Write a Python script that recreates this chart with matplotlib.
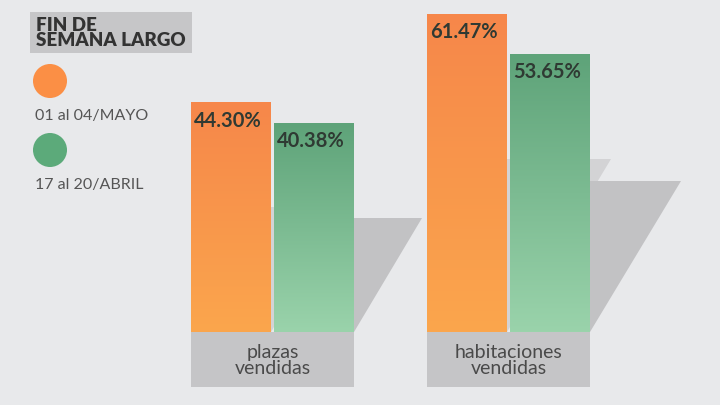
import numpy as np
import matplotlib
matplotlib.use("Agg")
import matplotlib.pyplot as plt
from matplotlib.patches import Rectangle, Polygon
from matplotlib.colors import LinearSegmentedColormap

categories = ["plazas\nvendidas", "habitaciones\nvendidas"]
series_names = ["01 al 04/MAYO", "17 al 20/ABRIL"]
mayo = [44.30, 61.47]
abril = [40.38, 53.65]
title = "FIN DE\nSEMANA LARGO"

BG = "#e8e9eb"
fig = plt.figure(figsize=(7.2, 4.05), dpi=100, facecolor=BG)
ax = fig.add_axes([0, 0, 1, 1])
ax.set_facecolor(BG)
PX = 5.17  # pixels per percent unit
ax.set_xlim(0, 720)
ax.set_ylim((332 - 405) / PX, 332 / PX)
ax.axis("off")

orange_cm = LinearSegmentedColormap.from_list("o", ["#fba64d", "#f6874a"])
green_cm = LinearSegmentedColormap.from_list("g", ["#9ad3ab", "#5ea379"])
grad = np.linspace(0, 1, 256).reshape(-1, 1)

group_left = [191, 427]
bar_w = 80
gap = 3
box_bottom = -(387 - 332) / PX

for i, cat in enumerate(categories):
    xo = group_left[i]
    xg = xo + bar_w + gap
    vals = [mayo[i], abril[i]]
    xs = [xo, xg]
    # shadows (triangles)
    for j, (x0, v) in enumerate(zip(xs, vals)):
        h = v * 0.545
        w = h * 0.6 * PX
        col = "#d3d3d5" if j == 0 else "#c2c2c4"
        ax.add_patch(Polygon([(x0 + bar_w, 0), (x0 + bar_w, h), (x0 + bar_w + w, h)],
                             closed=True, facecolor=col, edgecolor="none", zorder=1 + j))
    # bars
    for j, (x0, v) in enumerate(zip(xs, vals)):
        ax.bar(x0, v, width=bar_w, align="edge", color="none", edgecolor="none", zorder=3)
        ax.imshow(grad, cmap=orange_cm if j == 0 else green_cm, origin="lower",
                  extent=[x0, x0 + bar_w, 0, v], aspect="auto", zorder=3 + j * 2)
        ax.text(x0 + 3, v - 1.5, f"{v:.2f}%", ha="left", va="top", fontsize=14.5,
                fontweight="bold", color="#2f3a33", family="Lato", zorder=10)
    # category box
    ax.add_patch(Rectangle((xo, box_bottom), 2 * bar_w + gap, -box_bottom,
                           facecolor="#c5c5c7", edgecolor="none", zorder=6))
    ax.text(xo + (2 * bar_w + gap) / 2, box_bottom / 2 - 0.2, cat, ha="center", va="center",
            fontsize=14, color="#4a4a4a", family="Lato",
            linespacing=0.9, zorder=10)

# legend
def py(ypx):
    return (332 - ypx) / PX

ax.add_patch(Rectangle((30, py(53)), 162, (53 - 12) / PX, facecolor="#c6c6c8",
                       edgecolor="none", zorder=6))
ax.text(36, py(33), title, ha="left", va="center", fontsize=13.5, fontweight="heavy",
        color="#333333", family="Lato", linespacing=0.8, zorder=10)

ax.scatter([50], [py(81)], s=600, color="#fb8f45", edgecolors="none", zorder=7)
ax.scatter([50], [py(150)], s=600, color="#5caa7a", edgecolors="none", zorder=7)
ax.text(35, py(116), series_names[0], ha="left", va="center", fontsize=11.5,
        color="#555555", family="Lato", zorder=10)
ax.text(35, py(185), series_names[1], ha="left", va="center", fontsize=11.5,
        color="#555555", family="Lato", zorder=10)

fig.savefig("out.png", dpi=100, facecolor=BG)
